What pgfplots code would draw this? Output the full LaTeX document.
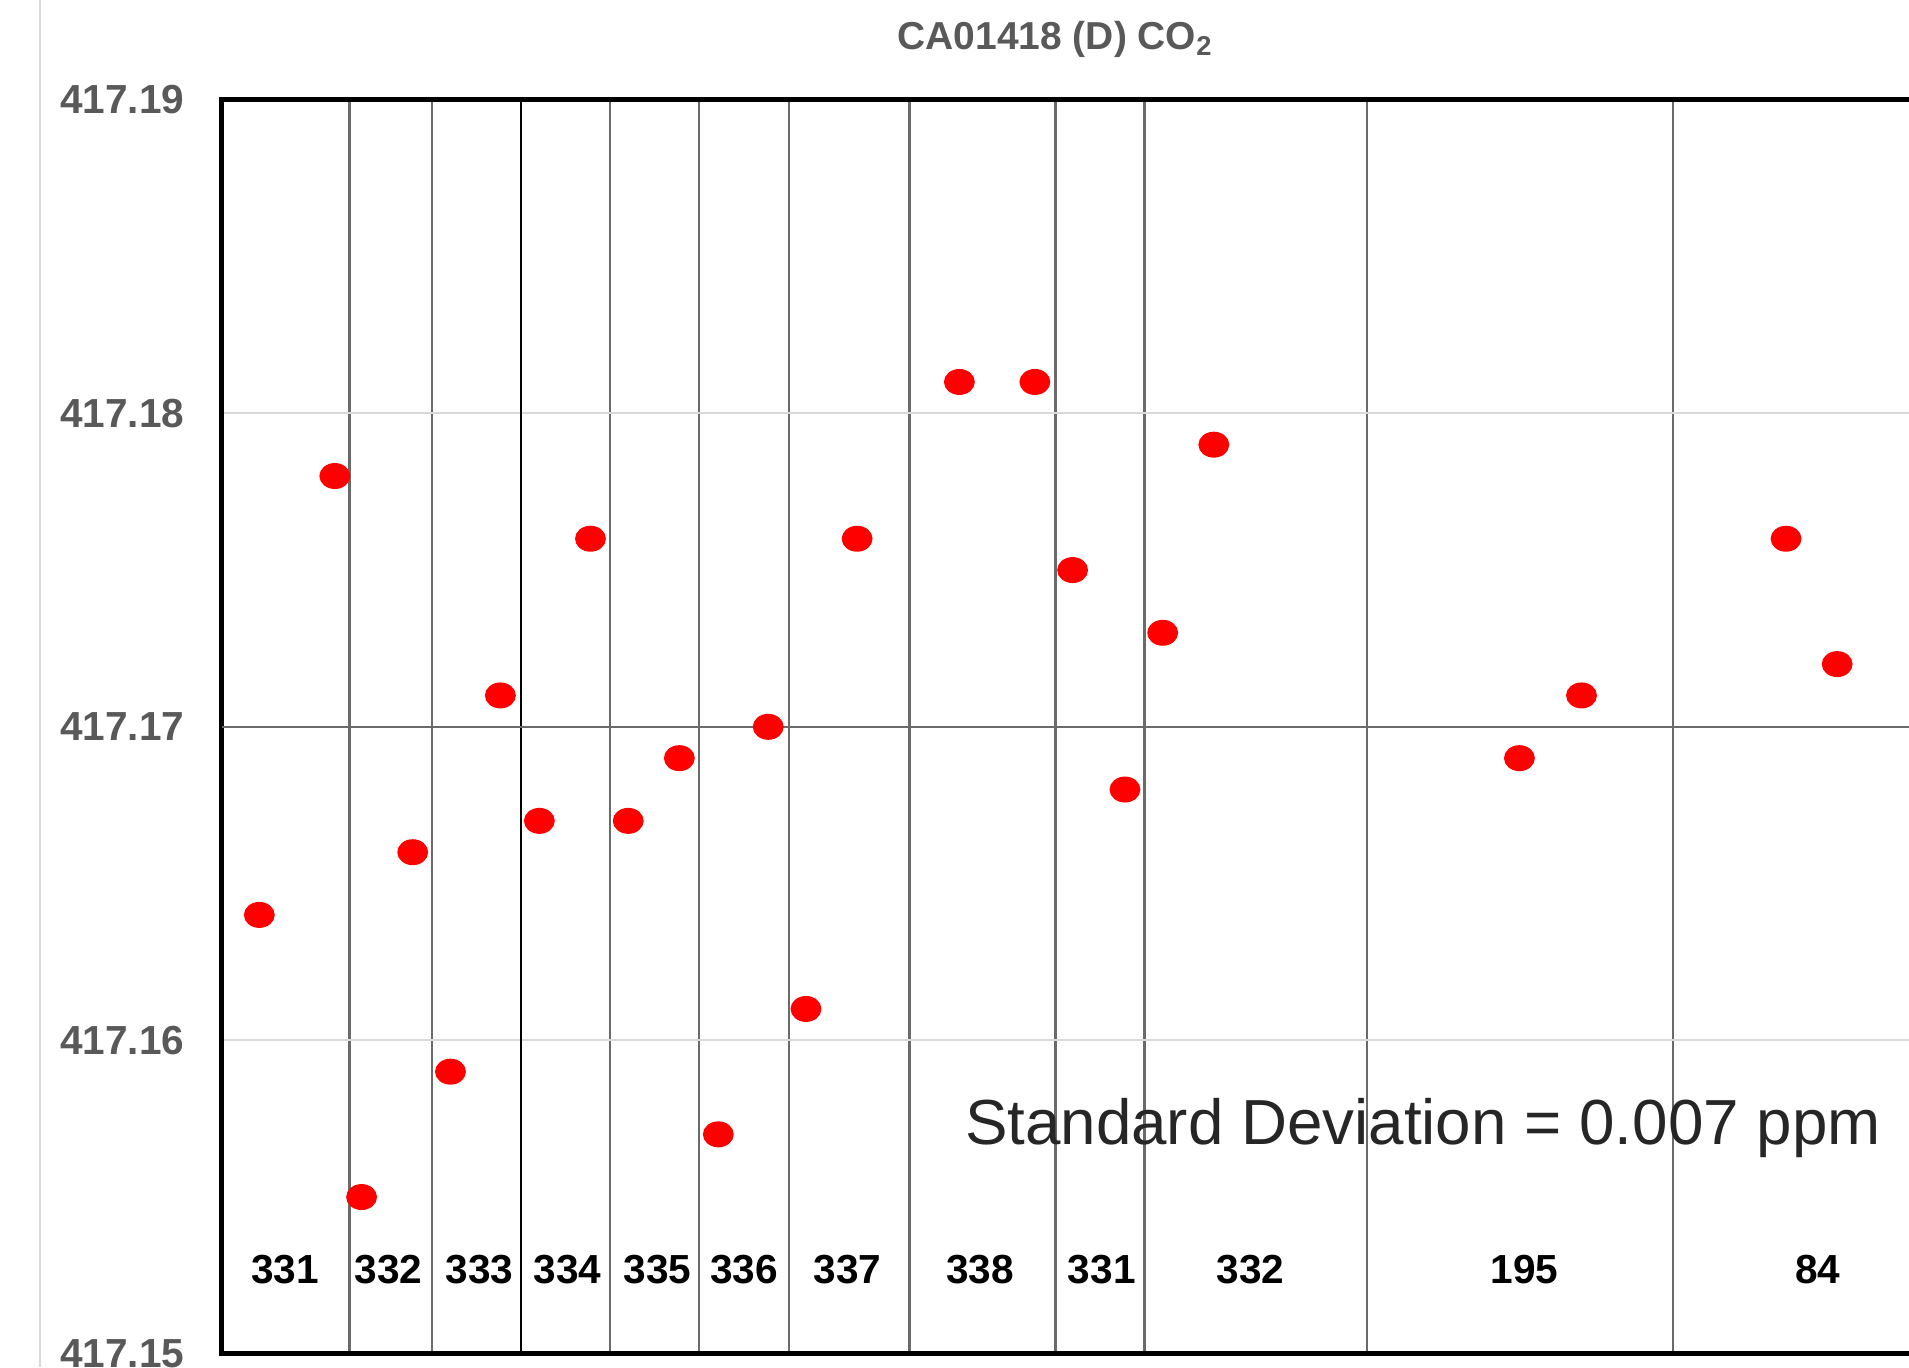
\documentclass[border=0pt]{standalone}
\usepackage{pgfplots}
\pgfplotsset{compat=1.18}
\usepackage{fontspec}
\setmainfont{Liberation Sans}
\definecolor{tickgray}{HTML}{595959}
\definecolor{gridlight}{HTML}{D9D9D9}
\definecolor{griddark}{HTML}{6A6A6A}
\definecolor{sdtext}{HTML}{262626}
\begin{document}
\begin{tikzpicture}
\begin{axis}[
  scale only axis,
  width=425.4pt, height=309pt,
  xmin=182, xmax=1600,
  ymin=417.15, ymax=417.19,
  clip=false,
  axis line style={line width=1.3pt, black},
  major tick length=0pt,
  xtick={287,355,501,574,648,747,867,940,1123,1374},
  xticklabels={},
  extra x ticks={428},
  extra x tick labels={},
  extra x tick style={grid style={black, line width=0.5pt}},
  xmajorgrids,
  grid style={griddark, line width=0.55pt},
  ytick={417.15,417.16,417.17,417.18,417.19},
  ymajorgrids,
  y grid style={gridlight, line width=0.5pt},
  yticklabel style={/pgf/number format/.cd, fixed, fixed zerofill, precision=2, assume math mode=true, /tikz/.cd,
    font=\fontsize{10}{12}\selectfont\bfseries, text=tickgray, inner sep=0pt, anchor=east, xshift=-9pt},
]
\draw[griddark, line width=0.55pt] (axis cs:182,417.17) -- (axis cs:1600,417.17);
\draw[gridlight, line width=0.5pt] (axis cs:33,417.193184) -- (axis cs:33,417.14957);
\addplot[only marks, mark=*, mark size=3pt, color=red, mark options={xscale=1.2, fill=red, draw=red}] coordinates {
(213,417.164) (275,417.178) (297,417.155) (339,417.166) (370,417.159) (411,417.171)
(443,417.167) (485,417.176) (516,417.167) (558,417.169) (590,417.157) (631,417.170)
(662,417.161) (704,417.176) (788,417.181) (850,417.181) (881,417.175) (924,417.168)
(955,417.173) (997,417.179) (1248,417.169) (1299,417.171) (1467,417.176) (1509,417.172)
};
\node[font=\fontsize{9.6}{11}\selectfont\bfseries, text=tickgray] at (axis cs:867,417.19194) {CA01418 (D) CO\textsubscript{2}};
\node[font=\fontsize{15.7}{18}\selectfont, text=sdtext, anchor=base west, inner sep=0pt] at (axis cs:792,417.15668) {Standard Deviation = 0.007 ppm};
\foreach \xx/\lab in {234/331,319/332,394/333,466/334,540/335,611/336,696/337,805/338,905/331,1027/332,1252/195,1493/84} {
  \edef\tmp{\noexpand\node[font=\noexpand\fontsize{10}{12}\noexpand\selectfont\noexpand\bfseries, text=black] at (axis cs:\xx,417.1527) {\lab};}
  \tmp
}
\coordinate (BL) at (axis cs:0,417.14957);
\coordinate (TR) at (axis cs:1568,417.193184);
\end{axis}
\pgfresetboundingbox
\useasboundingbox (BL) rectangle (TR);
\end{tikzpicture}
\end{document}
